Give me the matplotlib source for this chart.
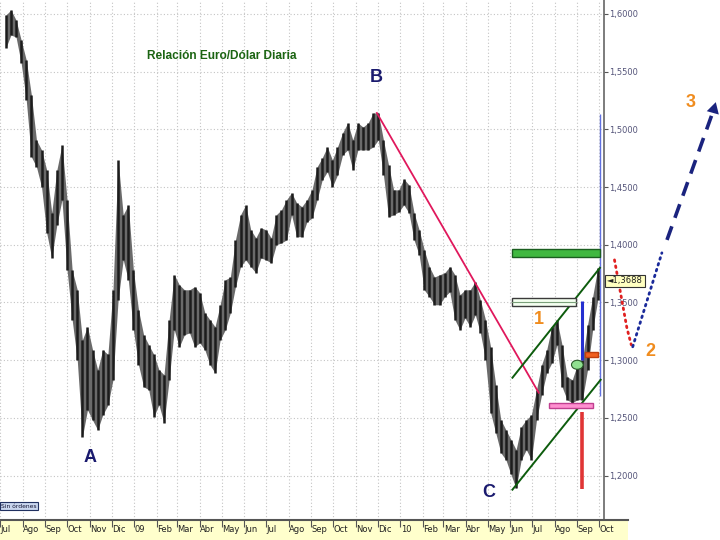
import pandas as pd
import matplotlib
matplotlib.use('Agg')
import matplotlib.pyplot as plt
import matplotlib.dates as mdates
import matplotlib.transforms as mtrans
from matplotlib.patches import Rectangle, Ellipse
from matplotlib.lines import Line2D

# weekly EUR/USD ranges (Wednesday of each week)
weeks = pd.date_range('2008-07-09', periods=117, freq='7D')
highs = [1.599, 1.6035, 1.5948, 1.5775, 1.5602, 1.530, 1.4909, 1.4822, 1.4649, 1.4277,
         1.4649, 1.4865, 1.439, 1.378, 1.361, 1.3176, 1.329, 1.309, 1.2917, 1.309,
         1.305, 1.361, 1.4735, 1.426, 1.4345, 1.378, 1.3436, 1.322, 1.3133, 1.305,
         1.2917, 1.2874, 1.335, 1.374, 1.3653, 1.361, 1.361, 1.3636, 1.3584, 1.341,
         1.335, 1.329, 1.348, 1.3696, 1.372, 1.4042, 1.426, 1.4345, 1.4129, 1.406,
         1.4147, 1.4129, 1.406, 1.426, 1.4302, 1.4389, 1.445, 1.4363, 1.433, 1.4389,
         1.4476, 1.4675, 1.4753, 1.4848, 1.4735, 1.4848, 1.497, 1.5056, 1.4909, 1.5056,
         1.502, 1.5056, 1.5142, 1.5142, 1.4909, 1.4692, 1.4476, 1.4476, 1.457, 1.4519,
         1.4277, 1.4129, 1.3956, 1.381, 1.372, 1.374, 1.3757, 1.381, 1.374, 1.3567,
         1.361, 1.361, 1.368, 1.3523, 1.335, 1.3116, 1.2787, 1.2484, 1.2397, 1.2311,
         1.2224, 1.2424, 1.2484, 1.2527, 1.2744, 1.296, 1.309, 1.329, 1.335, 1.3133,
         1.2857, 1.283, 1.296, 1.3003, 1.3306, 1.3549, 1.380]
lows = [1.5706, 1.5818, 1.580, 1.5576, 1.5255, 1.4762, 1.4675, 1.4502, 1.4104, 1.3886,
        1.4173, 1.439, 1.378, 1.335, 1.300, 1.2335, 1.257, 1.248, 1.2397, 1.2527,
        1.261, 1.283, 1.352, 1.387, 1.3696, 1.326, 1.296, 1.277, 1.2744, 1.251,
        1.2614, 1.2457, 1.283, 1.3263, 1.3116, 1.322, 1.3237, 1.3116, 1.315, 1.309,
        1.296, 1.289, 1.3176, 1.3263, 1.341, 1.3636, 1.381, 1.3869, 1.381, 1.3757,
        1.3886, 1.3869, 1.3843, 1.400, 1.4016, 1.4042, 1.426, 1.407, 1.407, 1.4198,
        1.4233, 1.4389, 1.4562, 1.4632, 1.4502, 1.4606, 1.478, 1.4822, 1.4649, 1.4822,
        1.4822, 1.4822, 1.4848, 1.4909, 1.4606, 1.4242, 1.426, 1.4285, 1.4346, 1.4277,
        1.4042, 1.3913, 1.3609, 1.355, 1.348, 1.348, 1.355, 1.3593, 1.335, 1.3263,
        1.3367, 1.329, 1.3393, 1.3237, 1.3003, 1.2545, 1.2372, 1.2198, 1.2137, 1.201,
        1.1888, 1.2137, 1.2224, 1.2137, 1.2484, 1.270, 1.289, 1.2977, 1.3133, 1.277,
        1.2657, 1.2631, 1.2657, 1.2657, 1.2917, 1.3263, 1.3523]

months = pd.date_range('2008-07-01', '2010-10-01', freq='MS')
month_labels = ['Jul', 'Ago', 'Sep', 'Oct', 'Nov', 'Dic', '09', 'Feb', 'Mar', 'Abr', 'May',
                'Jun', 'Jul', 'Ago', 'Sep', 'Oct', 'Nov', 'Dic', '10', 'Feb', 'Mar', 'Abr',
                'May', 'Jun', 'Jul', 'Ago', 'Sep', 'Oct']
price_ticks = [1.20, 1.25, 1.30, 1.35, 1.40, 1.45, 1.50, 1.55, 1.60]
last_price = 1.3688

# drawn studies (date, price)
trend_pts = (['2009-11-30', '2010-07-10'], [1.5142, 1.2718])
chan_up = (['2010-06-04', '2010-10-02'], [1.2848, 1.380])
chan_dn = (['2010-06-04', '2010-10-03'], [1.1878, 1.283])
green_zone = ('2010-06-04', '2010-10-02', 1.3895, 1.3964)
white_zone = ('2010-06-04', '2010-08-30', 1.347, 1.354)
pink_zone = ('2010-07-24', '2010-09-22', 1.2588, 1.2631)
orange_zone = ('2010-09-11', '2010-09-29', 1.303, 1.3073)
blue_bar = ('2010-09-08', 1.3003, 1.3515)
red_bar = ('2010-09-08', 1.1887, 1.2553)
thin_blue = ('2010-10-02', 1.2686, 1.5134)
oval = ('2010-09-01', 1.296)
red_path = (['2010-10-22', '2010-11-01', '2010-11-08', '2010-11-14'], [1.3869, 1.3523, 1.328, 1.3133])
blue_path = (['2010-11-16', '2010-12-26'], [1.3116, 1.393])
dash_path = (['2011-01-02', '2011-03-07'], [1.4042, 1.5169])
wave_letters = [('A', '2008-11-01', 1.2155), ('B', '2009-11-29', 1.545), ('C', '2010-05-03', 1.185)]
wave_nums = [('1', '2010-07-10', 1.335), ('2', '2010-12-10', 1.3073), ('3', '2011-02-04', 1.523)]


def dn(s):
    return mdates.date2num(pd.Timestamp(s))


fig = plt.figure(figsize=(7.2, 5.4), dpi=100)
ax = fig.add_axes([0, 20 / 540, 604 / 720, 520 / 540])

d0 = dn('2008-08-01')
ax.set_xlim(d0 - 23.1, d0 + 797.6)
ax.set_ylim(1.1615, 1.6121)

for s in ['top', 'left', 'bottom']:
    ax.spines[s].set_visible(False)
ax.spines['right'].set_color('#666666')
ax.spines['right'].set_linewidth(1.2)

ax.set_xticks(mdates.date2num(months))
ax.tick_params(axis='x', direction='out', length=5, color='#555555', labelbottom=False)
ax.yaxis.tick_right()
ax.set_yticks(price_ticks)
ax.set_yticklabels([f'{v:.4f}'.replace('.', ',') for v in price_ticks],
                   fontsize=6, color='#55557a', family=['Liberation Sans Narrow', 'DejaVu Sans'])
ax.tick_params(axis='y', direction='out', length=3, color='#555555', pad=1)
ax.grid(True, color='#c4c4c4', linestyle=(0, (1, 2)), linewidth=0.8)
ax.set_axisbelow(True)

blend = mtrans.blended_transform_factory(ax.transData, ax.transAxes)
for m, lab in zip(months, month_labels):
    ax.text(mdates.date2num(m) + 0.6, -0.019, lab, transform=blend, ha='left', va='center',
            fontsize=6, color='#222222', family=['Liberation Sans Narrow', 'DejaVu Sans'],
            clip_on=False)

# bottom band (behind the axes)
fig.patches.append(Rectangle((0, 0), 628 / 720, 19 / 540, transform=fig.transFigure,
                             facecolor='#ffffcc', edgecolor='none', zorder=-2))
fig.add_artist(Line2D([0, 628 / 720], [20 / 540, 20 / 540], color='#555555', lw=1.5, zorder=3))

# thin blue line behind bars
ax.vlines(dn(thin_blue[0]), thin_blue[1], thin_blue[2], color='#6070e0', lw=1, zorder=1)

# price bars: grey range band with darker weekly bars on top
wk = mdates.date2num(weeks)
ax.fill_between(wk, lows, highs, color='#6a6a6a', lw=0, zorder=2)
ax.vlines(wk, lows, highs, color='#1c1c1c', lw=1.8, zorder=2)

# trend line B
ax.plot([dn(d) for d in trend_pts[0]], trend_pts[1], color='#e0185c', lw=1.3, zorder=3)
# channel
for ch in (chan_up, chan_dn):
    ax.plot([dn(d) for d in ch[0]], ch[1], color='#0d5c0d', lw=1.4, zorder=3)


def zone(z, fc, ec, lw=1.0):
    ax.add_patch(Rectangle((dn(z[0]), z[2]), dn(z[1]) - dn(z[0]), z[3] - z[2],
                           facecolor=fc, edgecolor=ec, lw=lw, zorder=4))


zone(green_zone, '#40b840', '#1b5e20')
zone(white_zone, '#f4fff0', '#3a3a3a')
ax.plot([dn(white_zone[0]), dn(white_zone[1])], [(white_zone[2] + white_zone[3]) / 2] * 2,
        color='#7aa07a', lw=0.8, zorder=5)
zone(pink_zone, '#ff8fd0', '#c04090')
zone(orange_zone, '#f06020', '#c04010')

ax.vlines(dn(blue_bar[0]), blue_bar[1], blue_bar[2], color='#2530d0', lw=2.2, zorder=4)
ax.vlines(dn(red_bar[0]), red_bar[1], red_bar[2], color='#e03535', lw=2.6, zorder=4)
ax.add_patch(Ellipse((dn(oval[0]), oval[1]), 16, 0.0078, facecolor='#90e090',
                     edgecolor='#2a5a2a', lw=0.8, zorder=5))

# projection beyond the price axis
ax.plot([dn(d) for d in red_path[0]], red_path[1], color='#e02020', lw=2,
        linestyle=(0, (0.6, 1.6)), dash_capstyle='round', clip_on=False, zorder=5)
ax.plot([dn(d) for d in blue_path[0]], blue_path[1], color='#1a2a9a', lw=2,
        linestyle=(0, (0.6, 1.6)), dash_capstyle='round', clip_on=False, zorder=5)
ax.plot([dn(d) for d in dash_path[0]], dash_path[1], color='#1a237e', lw=2.6,
        linestyle=(0, (4, 2.5)), clip_on=False, zorder=5)
ax.annotate('', xy=(dn(dash_path[0][1]) + 4, dash_path[1][1] + 0.009),
            xytext=(dn(dash_path[0][1]), dash_path[1][1]),
            arrowprops=dict(arrowstyle='-|>,head_length=0.8,head_width=0.45',
                            color='#1a237e', lw=0), annotation_clip=False)

# last price box
ax.text(1.005, last_price, '\u25c4' + f'{last_price:.4f}'.replace('.', ','),
        transform=mtrans.blended_transform_factory(ax.transAxes, ax.transData),
        fontsize=6, va='center', ha='left', color='#222222',
        family=['Liberation Sans Narrow', 'DejaVu Sans'], clip_on=False, zorder=6,
        bbox=dict(boxstyle='square,pad=0.2', facecolor='#ffffc0', edgecolor='#333333', lw=0.8))

# labels
for lab, d, p in wave_letters:
    ax.text(dn(d), p, lab, fontsize=13, fontweight='bold', color='#1a1a6e',
            ha='center', va='center', family='Liberation Sans', clip_on=False)
for lab, d, p in wave_nums:
    ax.text(dn(d), p, lab, fontsize=13, fontweight='bold', color='#f08c1e',
            ha='center', va='center', family='Liberation Sans', clip_on=False)

ax.text(0.3675, 0.892, 'Relación Euro/Dólar Diaria', transform=ax.transAxes,
        fontsize=8.6, fontweight='bold', color='#1b6412', ha='center', va='center',
        family='Liberation Sans')

fig.text(1 / 720, 1 - 506 / 540, 'Sin órdenes', fontsize=4.3, color='#101030',
         va='center', ha='left', family=['Liberation Sans Narrow', 'DejaVu Sans'],
         bbox=dict(boxstyle='square,pad=0.25', facecolor='#c9d6ee', edgecolor='#203060', lw=0.8))

fig.savefig('out.png', dpi=100)
